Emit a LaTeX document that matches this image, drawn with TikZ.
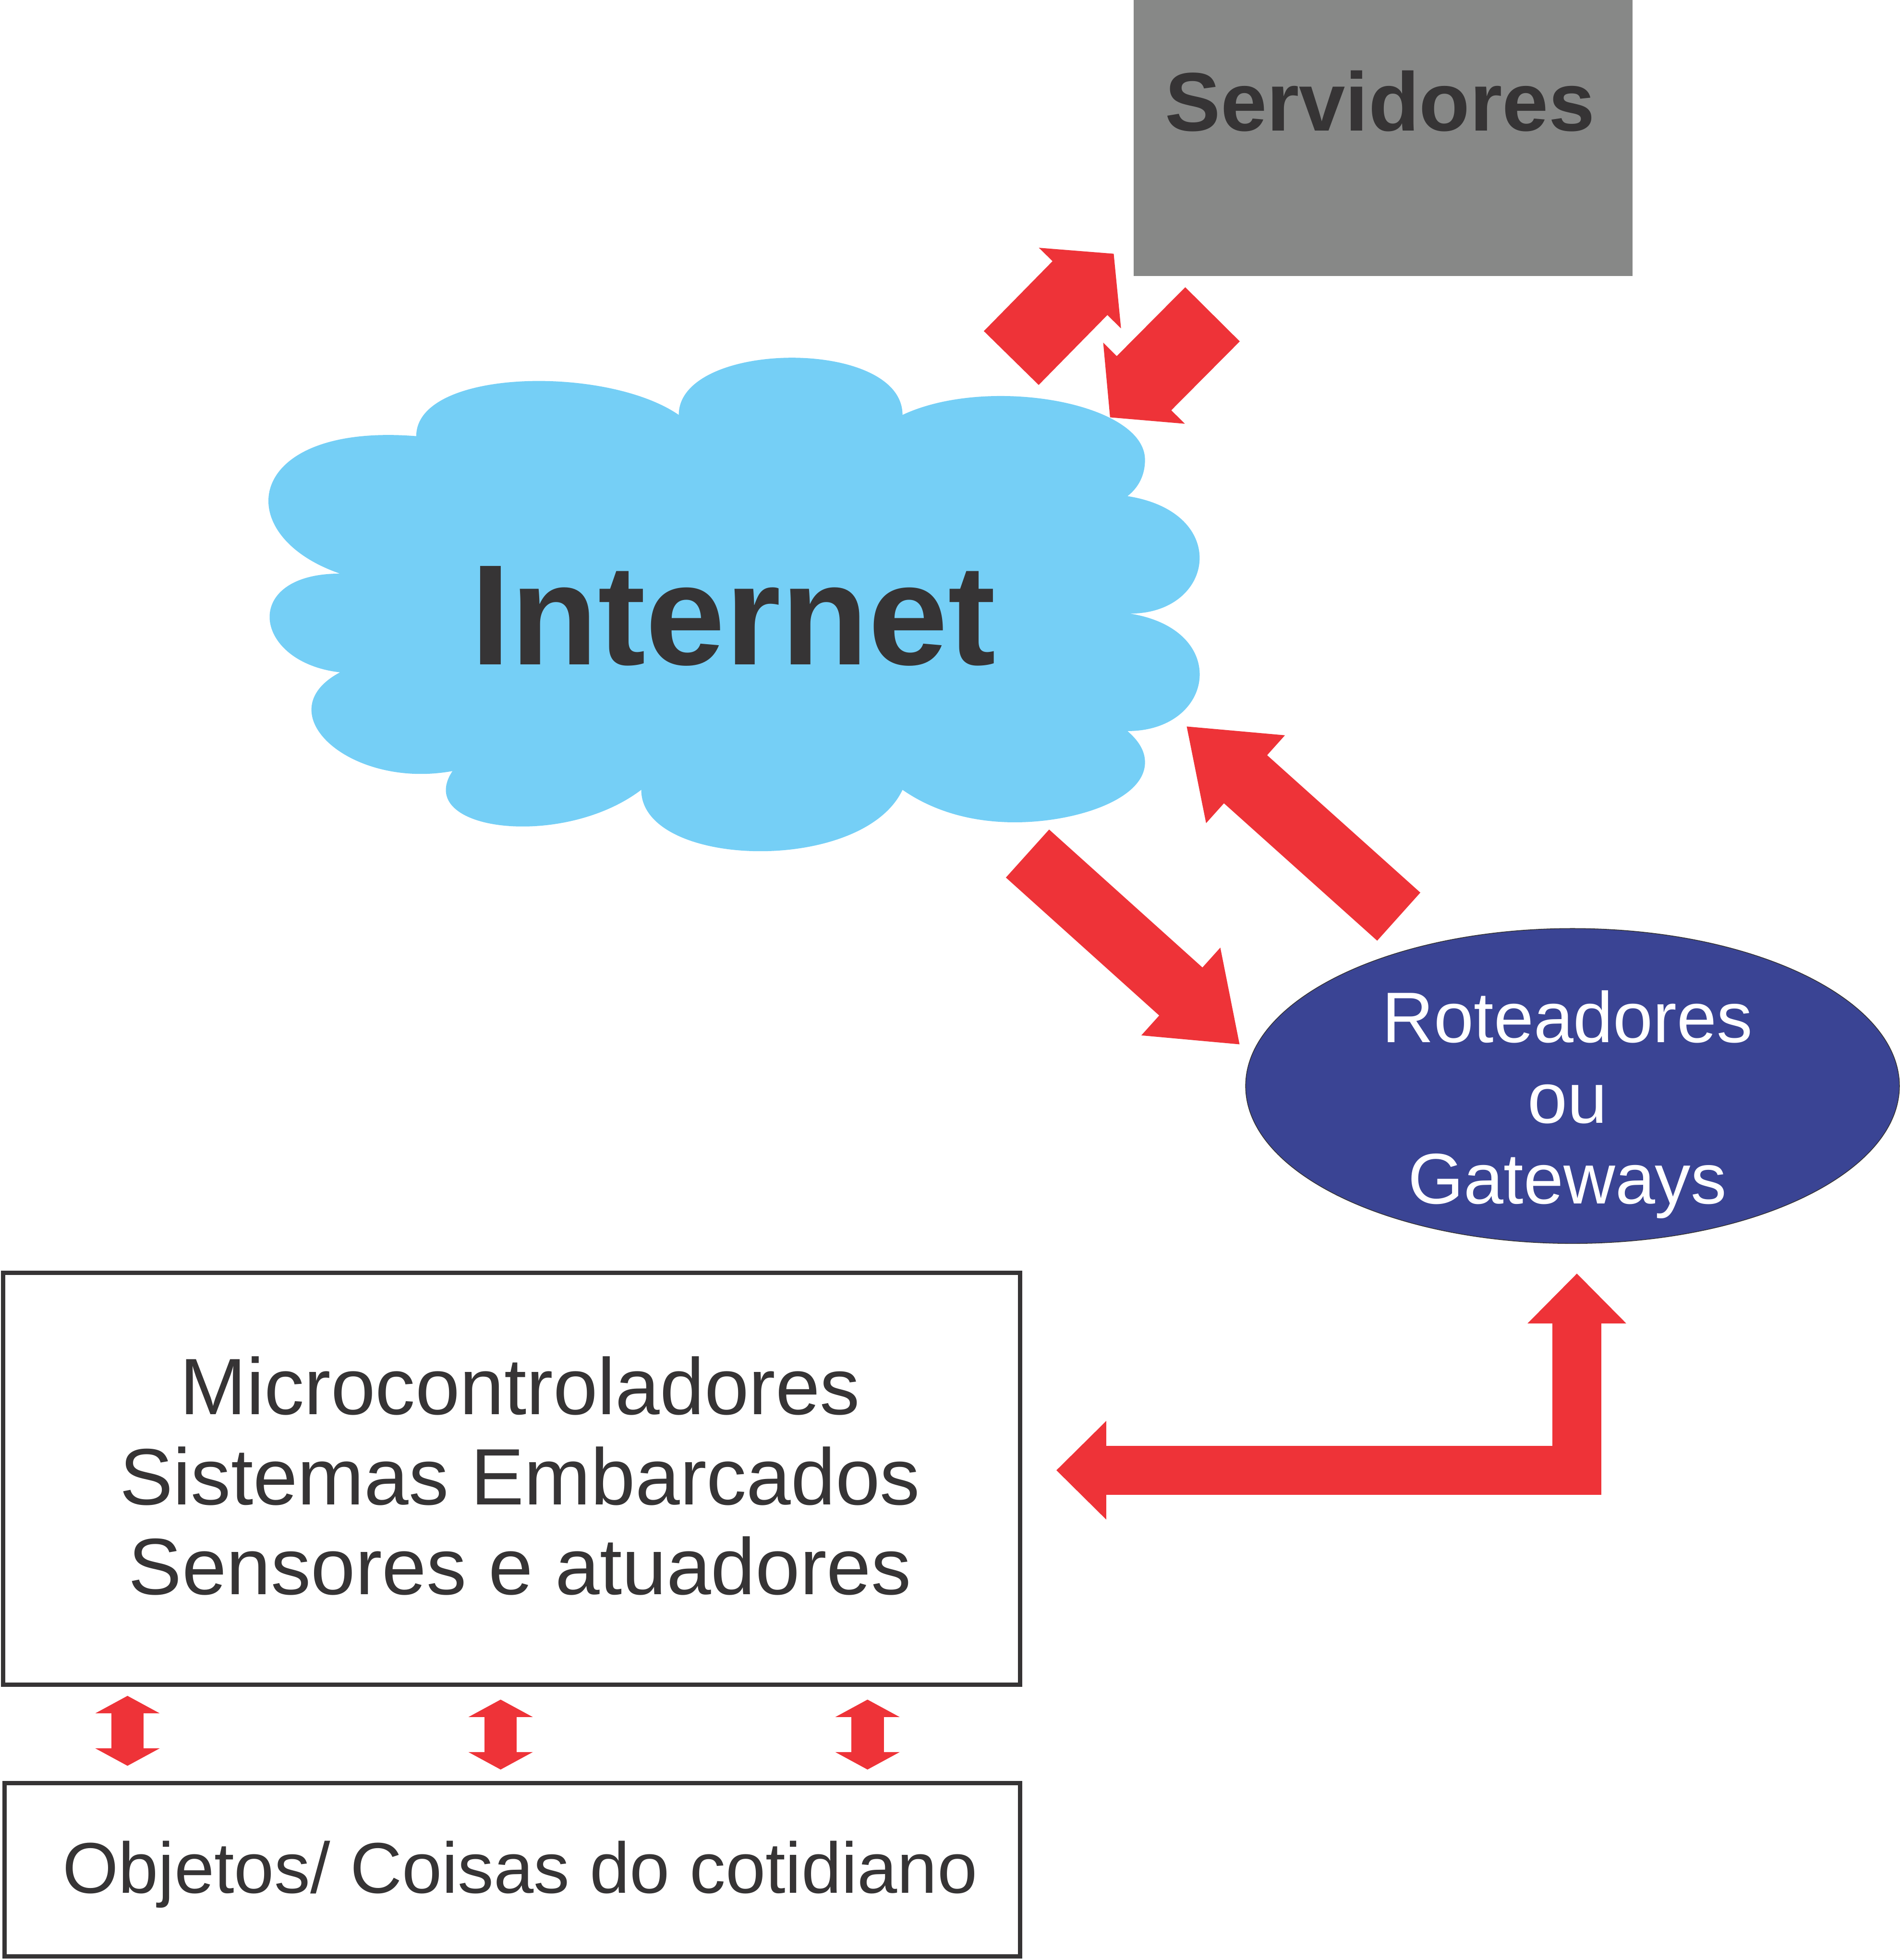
\documentclass[tikz,border=0pt]{standalone}
\usepackage{fontspec}
\setmainfont{Liberation Sans}
\usetikzlibrary{arrows.meta, shapes.geometric}
\definecolor{arrowred}{HTML}{EE3338}
\definecolor{cloudblue}{HTML}{75CFF6}
\definecolor{servergray}{HTML}{878887}
\definecolor{gatewayblue}{HTML}{3A4494}
\definecolor{inkgray}{HTML}{363435}
\newcommand\labelsize[2]{\fontsize{#1}{#2}\selectfont}

\begin{document}
\begin{tikzpicture}[x = 1pt, y = -1pt,
    framebox/.style = {draw = inkgray, line width = 3.5pt, fill = white, inner sep = 0pt},
    caption/.style = {text = inkgray, align = center, inner sep = 0pt},
    serverarrow/.style = {draw = arrowred, line width = 61.5pt, -{Triangle[length = 38.6pt, width = 90pt, fill = arrowred]}},
    routerarrow/.style = {draw = arrowred, line width = 51.7pt, -{Triangle[length = 63.7pt, width = 90pt, fill = arrowred]}},
    bentarrow/.style = {draw = arrowred, line width = 39pt, {Triangle[length = 40pt, width = 76.5pt, fill = arrowred]}-{Triangle[length = 40pt, width = 76.5pt, fill = arrowred]}},
    smallarrow/.style = {draw = arrowred, line width = 26pt, {Triangle[length = 14pt, width = 51pt, fill = arrowred]}-{Triangle[length = 14pt, width = 51pt, fill = arrowred]}}]
      \useasboundingbox (0,0) rectangle (1520,1568.4);

      % internet cloud
      \fill[cloudblue] (333,349) .. controls (333,295) and (485,292) .. (543,332)
        .. controls (543,272) and (722,270) .. (722,332)
        .. controls (790,300) and (916,322) .. (916,368)
        .. controls (916,380) and (911,390) .. (902,397)
        .. controls (985,410) and (972,491) .. (904,491)
        .. controls (985,504) and (972,585) .. (902,585)
        .. controls (910,592) and (916,600) .. (916,610)
        .. controls (916,640) and (860,658) .. (812,658)
        .. controls (775,658) and (745,648) .. (722,632)
        .. controls (690,700) and (513,695) .. (513,632)
        .. controls (450,680) and (330,665) .. (362,617)
        .. controls (280,632) and (212,570) .. (272,538)
        .. controls (202,530) and (192,459) .. (272,459)
        .. controls (182,428) and (195,338) .. (333,349) -- cycle;
      \node[caption, font = \labelsize{114.5}{120}\bfseries] (internet) at (586.5,493) {Internet};

      % boxes
      \node[fill = servergray, minimum width = 399pt, minimum height = 221pt, inner sep = 0pt] (servers) at (1106.5,110.5) {};
      \node[caption, font = \labelsize{66.5}{70}\bfseries] (serverstext) at (1104,81) {Servidores};
      \node[ellipse, draw = inkgray, line width = 0.6pt, fill = gatewayblue, minimum width = 523pt, minimum height = 252pt, inner sep = 0pt] (gateway) at (1258,869) {};
      \node[caption, text = white, font = \labelsize{57.3}{64.5}] (gatewaytext) at (1254,884) {Roteadores\\ou\\Gateways};
      \node[framebox, minimum width = 813.5pt, minimum height = 329.5pt] (micro) at (409.25,1183.25) {};
      \node[caption, font = \labelsize{64}{72}] (microtext) at (416,1181) {Microcontroladores\\Sistemas Embarcados\\Sensores e atuadores};
      \node[framebox, minimum width = 812.5pt, minimum height = 138.5pt] (objects) at (409.75,1496.25) {};
      \node[caption, font = \labelsize{57.5}{60}] (objectstext) at (416,1500) {Objetos/ Coisas do cotidiano};

      % free ends of the arrows
      \coordinate (up-tail) at (809,286.5);
      \coordinate (up-tip) at (891,203);
      \coordinate (down-tail) at (970,251.5);
      \coordinate (down-tip) at (888,334);
      \coordinate (back-tail) at (1119,733.5);
      \coordinate (back-tip) at (949,581);
      \coordinate (fwd-tail) at (822,683);
      \coordinate (fwd-tip) at (992,836);
      \coordinate (bent-left) at (845,1176.5);
      \coordinate (bent-up) at (1261.5,1019);
      \coordinate (link-a-top) at (102,1357);
      \coordinate (link-a-bot) at (102,1413);
      \coordinate (link-b-top) at (400.5,1360);
      \coordinate (link-b-bot) at (400.5,1416);
      \coordinate (link-c-top) at (694,1360);
      \coordinate (link-c-bot) at (694,1416);

      \draw[serverarrow] (up-tail) -- (up-tip);
      \draw[serverarrow] (down-tail) -- (down-tip);
      \draw[routerarrow] (back-tail) -- (back-tip);
      \draw[routerarrow] (fwd-tail) -- (fwd-tip);
      \draw[bentarrow] (bent-left) -| (bent-up);
      \draw[smallarrow] (link-a-top) -- (link-a-bot);
      \draw[smallarrow] (link-b-top) -- (link-b-bot);
      \draw[smallarrow] (link-c-top) -- (link-c-bot);
    \end{tikzpicture}
\end{document}
